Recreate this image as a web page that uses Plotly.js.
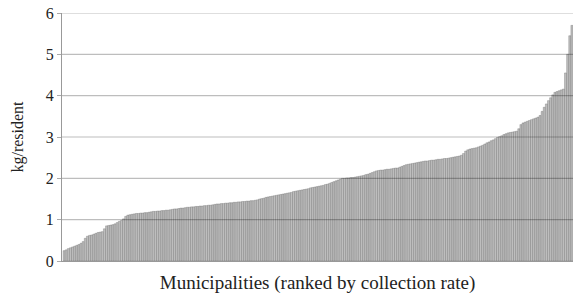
<!DOCTYPE html>
<html>
<head>
<meta charset="utf-8">
<script src="https://cdn.plot.ly/plotly-3.0.1.min.js"></script>
<style>html,body{margin:0;padding:0;background:#fff;}#chart{width:574px;height:294px;}</style>
</head>
<body>
<div id="chart"></div>
<script>
// kg/resident per municipality, ranked ascending
const collectionRates = [
  0.25,0.27,0.30,0.32,0.34,0.36,0.38,0.40,0.43,0.47,
  0.55,0.60,0.62,0.63,0.65,0.67,0.69,0.70,0.71,0.78,
  0.85,0.86,0.87,0.88,0.90,0.93,0.96,0.98,1.02,1.08,
  1.11,1.12,1.13,1.14,1.15,1.15,1.16,1.16,1.17,1.17,
  1.18,1.19,1.20,1.20,1.21,1.21,1.22,1.22,1.23,1.23,
  1.24,1.25,1.26,1.26,1.27,1.28,1.28,1.29,1.30,1.30,
  1.31,1.31,1.32,1.32,1.33,1.33,1.34,1.34,1.35,1.35,
  1.36,1.37,1.38,1.38,1.39,1.39,1.40,1.40,1.41,1.41,
  1.42,1.42,1.43,1.43,1.44,1.44,1.45,1.45,1.46,1.46,
  1.47,1.48,1.50,1.51,1.52,1.54,1.55,1.56,1.57,1.58,
  1.59,1.60,1.61,1.62,1.63,1.64,1.65,1.66,1.68,1.69,
  1.70,1.71,1.72,1.73,1.74,1.75,1.77,1.78,1.79,1.80,
  1.81,1.82,1.83,1.85,1.86,1.88,1.90,1.92,1.94,1.96,
  1.98,2.00,2.00,2.01,2.01,2.02,2.02,2.03,2.04,2.05,
  2.06,2.07,2.09,2.10,2.12,2.14,2.16,2.18,2.19,2.20,
  2.20,2.21,2.22,2.22,2.23,2.24,2.25,2.25,2.27,2.29,
  2.31,2.33,2.34,2.35,2.36,2.37,2.38,2.39,2.40,2.41,
  2.42,2.42,2.43,2.44,2.44,2.45,2.46,2.46,2.47,2.48,
  2.48,2.49,2.50,2.51,2.52,2.53,2.54,2.56,2.60,2.66,
  2.69,2.71,2.72,2.73,2.74,2.76,2.78,2.80,2.83,2.86,
  2.88,2.91,2.93,2.96,2.99,3.01,3.03,3.06,3.08,3.10,
  3.11,3.12,3.13,3.14,3.20,3.30,3.34,3.36,3.38,3.40,
  3.42,3.44,3.46,3.48,3.52,3.62,3.72,3.80,3.88,3.95,
  4.02,4.08,4.10,4.12,4.14,4.16,4.55,5.00,5.45,5.70
];
const municipalities = collectionRates.map((_, i) => i + 1);
const yTickValues = [0, 1, 2, 3, 4, 5, 6];
const xTitle = "Municipalities (ranked by collection rate)";
const yTitle = "kg/resident";

const serif = "Liberation Serif";

// gridlines drawn over the bars, one per y tick
const gridShapes = yTickValues.slice(1).map(v => ({
  type: "line", xref: "paper", yref: "y", x0: 0, x1: 1, y0: v, y1: v,
  layer: "above", line: {color: "rgba(0,0,0,0.26)", width: 1.2}
}));

Plotly.newPlot("chart", [{
  type: "bar",
  x: municipalities,
  y: collectionRates,
  marker: {color: "#bebebe", line: {color: "#5a5a5a", width: 0.3}},
  hoverinfo: "skip"
}], {
  width: 574, height: 294,
  margin: {l: 62, r: 1, t: 13, b: 33},
  paper_bgcolor: "#fff", plot_bgcolor: "#fff",
  bargap: 0,
  showlegend: false,
  font: {family: serif, color: "#222"},
  shapes: gridShapes,
  xaxis: {
    range: [0.0, collectionRates.length + 0.5],
    showticklabels: false, ticks: "", showgrid: false, zeroline: false,
    showline: true, linecolor: "#999", linewidth: 1,
    title: {text: xTitle, font: {family: serif, size: 19, color: "#222"}, standoff: 14}
  },
  yaxis: {
    range: [0, 6], tickvals: yTickValues, layer: "above traces",
    ticks: "outside", ticklen: 4, tickcolor: "#aaa",
    showgrid: false,
    zeroline: false, showline: true, linecolor: "#999", linewidth: 1,
    tickfont: {family: serif, size: 16, color: "#222"},
    title: {text: yTitle, font: {family: serif, size: 16, color: "#222"}, standoff: 18}
  }
}, {staticPlot: true});
</script>
</body>
</html>
